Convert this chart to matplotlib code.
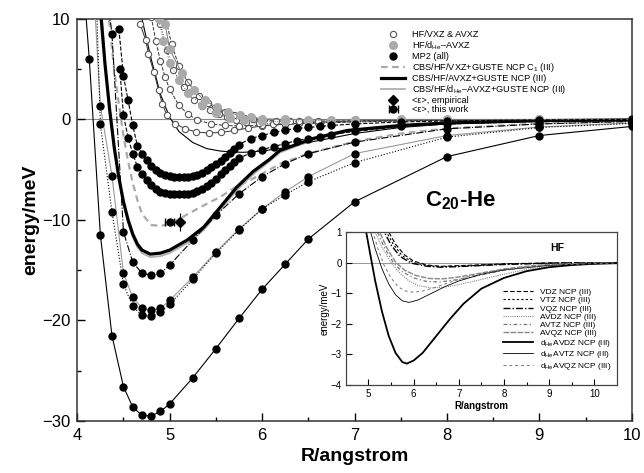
import matplotlib.pyplot as plt
from matplotlib.lines import Line2D

plt.rcParams['font.family'] = ['Liberation Sans', 'DejaVu Sans']
plt.rcParams['mathtext.fontset'] = 'custom'
plt.rcParams['mathtext.rm'] = 'Liberation Sans'
plt.rcParams['mathtext.bf'] = 'Liberation Sans:bold'
plt.rcParams['mathtext.it'] = 'Liberation Sans:italic'

# ---------------- main panel data (R in angstrom, energy in meV) ----------------
# MP2 (all), black dots
mp2_1_r = [4.08, 4.13, 4.25, 4.375, 4.5, 4.6, 4.7, 4.8, 4.9, 5.0, 5.25, 5.5, 5.75, 6.0, 6.25, 6.5, 7.0, 8.0, 9.0, 10.0]
mp2_1_e = [12.0, 6.0, -11.5, -21.5, -26.6, -28.6, -29.45, -29.5, -29.05, -28.3, -25.7, -22.8, -19.8, -16.9, -14.4, -11.9, -8.2, -3.7, -1.6, -0.7]

mp2_2_r = [4.19, 4.25, 4.375, 4.5, 4.6, 4.7, 4.8, 4.9, 5.0, 5.25, 5.5, 5.75, 6.0, 6.25, 6.5, 7.0, 8.0, 9.0, 10.0]
mp2_2_e = [11.0, 1.3, -5.6, -15.3, -17.7, -18.8, -19.0, -18.8, -18.0, -15.7, -13.2, -10.9, -8.9, -7.2, -5.7, -3.4, -1.6, -0.75, -0.35]

mp2_3_r = [4.21, 4.25, 4.375, 4.5, 4.6, 4.7, 4.8, 4.9, 5.0, 5.25, 5.5, 5.75, 6.0, 6.25, 6.5, 7.0, 8.0, 9.0, 10.0]
mp2_3_e = [11.0, -0.5, -9.2, -16.4, -18.6, -19.5, -19.6, -19.2, -18.4, -15.9, -13.3, -11.0, -8.9, -7.5, -6.2, -4.3, -1.76, -0.8, -0.4]

mp2_4_r = [4.33, 4.375, 4.5, 4.6, 4.7, 4.8, 4.9, 5.0, 5.25, 5.5, 5.75, 6.0, 6.25, 6.5, 7.0, 8.0, 9.0, 10.0]
mp2_4_e = [12.0, 8.5, -11.2, -14.2, -15.3, -15.5, -15.3, -14.5, -12.0, -9.55, -7.4, -5.7, -4.4, -3.4, -2.26, -0.93, -0.45, -0.2]

# MP2, densely sampled bands
band_1_r = [4.45, 4.5, 4.55, 4.6, 4.65, 4.7, 4.75, 4.8, 4.85, 4.9, 4.95, 5.0, 5.05, 5.1, 5.15, 5.2,
            5.25, 5.3, 5.35, 5.4, 5.45, 5.5, 5.55, 5.6, 5.65, 5.7, 5.75,
            5.875, 6.0, 6.125, 6.25, 6.375, 6.5, 6.625, 6.75, 7.0, 7.5, 8.0, 9.0, 10.0]
band_1_e = [9.0, 4.3, 1.9, -0.6, -2.6, -3.4, -4.0, -4.6, -5.0, -5.3, -5.5, -5.65, -5.72, -5.75, -5.75, -5.72,
            -5.65, -5.5, -5.3, -5.05, -4.75, -4.45, -4.1, -3.7, -3.3, -2.9, -2.5,
            -1.9, -1.6, -1.3, -1.05, -0.9, -0.8, -0.7, -0.6, -0.45, -0.25, -0.15, -0.05, 0.0]

band_2_r = [4.46, 4.5, 4.55, 4.6, 4.65, 4.7, 4.75, 4.8, 4.85, 4.9, 4.95, 5.0, 5.05, 5.1, 5.15, 5.2,
            5.25, 5.3, 5.35, 5.4, 5.45, 5.5, 5.55, 5.6, 5.65, 5.7, 5.75,
            5.875, 6.0, 6.125, 6.25, 6.375, 6.5, 6.625, 6.75, 7.0, 7.5, 8.0, 9.0, 10.0]
band_2_e = [5.0, 0.4, -1.8, -3.4, -4.7, -5.4, -6.0, -6.5, -6.95, -7.2, -7.35, -7.4, -7.45, -7.45, -7.45, -7.4,
            -7.3, -7.15, -6.9, -6.6, -6.3, -5.9, -5.45, -5.0, -4.6, -4.2, -3.85,
            -3.35, -3.0, -2.7, -2.4, -2.1, -1.9, -1.7, -1.5, -1.2, -0.7, -0.45, -0.2, -0.1]

# HF/VXZ & AVXZ, open circles
hf_o1_r = [4.68, 4.74, 4.77, 4.83, 4.88, 4.92, 4.97, 5.06, 5.17, 5.29, 5.42, 5.55, 5.7, 5.85, 6.0, 6.25, 6.5, 7.0, 7.5, 8.0, 9.0, 10.0]
hf_o1_e = [9.5, 7.9, 6.5, 4.7, 2.9, 1.56, 0.4, -0.43, -0.93, -1.26, -1.35, -1.3, -1.1, -0.85, -0.65, -0.45, -0.3, -0.15, -0.08, -0.04, -0.02, 0.0]

hf_o2_r = [4.8, 4.85, 4.9, 4.95, 5.0, 5.1, 5.2, 5.3, 5.45, 5.6, 5.75, 6.0, 6.25, 6.5, 7.0, 7.5, 8.0, 9.0, 10.0]
hf_o2_e = [10.2, 7.8, 5.8, 4.2, 3.0, 1.4, 0.5, -0.05, -0.45, -0.6, -0.65, -0.6, -0.5, -0.4, -0.25, -0.15, -0.08, -0.03, -0.01]

hf_o3_r = [4.88, 4.9, 4.97, 5.04, 5.15, 5.26, 5.35, 5.44, 5.53, 5.62, 5.72, 5.83, 5.97, 6.12, 6.25, 6.4, 6.6, 6.75, 7.0, 7.5, 8.0, 9.0, 10.0]
hf_o3_e = [10.5, 9.5, 6.9, 4.9, 3.2, 1.9, 1.35, 0.9, 0.55, 0.23, -0.05, -0.27, -0.38, -0.43, -0.43, -0.4, -0.35, -0.3, -0.25, -0.15, -0.08, -0.03, -0.01]

hf_o4_r = [4.95, 5.02, 5.1, 5.2, 5.32, 5.41, 5.5, 5.6, 5.7, 5.8, 5.9, 6.0, 6.15, 6.3, 6.4, 6.6, 6.75, 7.0, 7.5, 8.0, 9.0, 10.0]
hf_o4_e = [10.3, 7.5, 5.3, 3.7, 2.3, 1.6, 1.1, 0.7, 0.4, 0.18, 0.0, -0.08, -0.15, -0.18, -0.18, -0.16, -0.15, -0.12, -0.07, -0.04, -0.01, 0.0]

# HF/dHe-AVXZ, grey dots
hf_g1_r = [4.95, 5.0, 5.13, 5.26, 5.38, 5.51, 5.63, 5.76, 5.88, 6.0, 6.25, 6.5, 6.75, 7.0, 7.5, 8.0, 9.0, 10.0]
hf_g1_e = [9.5, 7.0, 4.6, 2.9, 1.9, 1.2, 0.7, 0.4, 0.2, 0.07, 0.0, -0.03, -0.03, -0.02, 0.0, 0.0, 0.0, 0.0]

hf_g2_r = [4.88, 4.93, 5.0, 5.1, 5.2, 5.35, 5.5, 5.65, 5.8, 6.0, 6.25, 6.5, 7.0, 8.0, 9.0, 10.0]
hf_g2_e = [10.0, 7.8, 5.6, 3.9, 2.6, 1.4, 0.6, 0.15, -0.1, -0.2, -0.2, -0.15, -0.08, -0.02, 0.0, 0.0]

# HF/dHe-AVDZ line
hf_d_r = [4.7, 4.8, 4.9, 5.0, 5.1, 5.25, 5.4, 5.55, 5.7, 5.8, 6.0, 6.25, 6.5, 7.0, 7.5, 8.0, 9.0, 10.0]
hf_d_e = [10.0, 6.0, 2.5, 0.2, -1.2, -2.3, -2.9, -3.15, -3.25, -3.27, -3.15, -2.8, -2.3, -1.4, -0.8, -0.45, -0.15, -0.05]

# CBS curves
cbs_c1_r = [4.33, 4.4, 4.45, 4.5, 4.55, 4.6, 4.65, 4.7, 4.8, 4.9, 5.0, 5.2, 5.4, 5.55, 5.7, 5.9, 6.2, 6.5, 7.0, 7.5, 8.0, 9.0, 10.0]
cbs_c1_e = [11.0, 5.0, 1.5, -1.6, -4.2, -6.3, -8.0, -9.4, -10.5, -10.6, -10.4, -9.4, -8.4, -7.7, -6.8, -5.9, -4.4, -3.4, -2.2, -1.4, -0.9, -0.4, -0.18]

cbs_av_r = [4.25, 4.3, 4.35, 4.4, 4.45, 4.5, 4.55, 4.6, 4.65, 4.7, 4.79, 4.9, 5.0, 5.19, 5.37, 5.55, 5.73, 5.9, 6.09, 6.19, 6.55, 6.92, 7.5, 8.0, 9.0, 10.0]
cbs_av_e = [11.0, 5.5, 1.0, -2.8, -5.8, -8.2, -10.0, -11.4, -12.4, -13.0, -13.4, -13.3, -13.0, -12.0, -10.7, -8.7, -6.7, -5.2, -3.9, -3.1, -1.9, -1.1, -0.6, -0.35, -0.12, -0.05]

cbs_dhe_r = [4.26, 4.3, 4.35, 4.4, 4.45, 4.5, 4.55, 4.6, 4.65, 4.7, 4.79, 4.9, 5.0, 5.19, 5.37, 5.55, 5.73, 5.9, 6.09, 6.19, 6.55, 6.92, 7.5, 8.0, 9.0, 10.0]
cbs_dhe_e = [11.0, 5.8, 1.2, -2.8, -5.9, -8.4, -10.3, -11.7, -12.7, -13.3, -13.7, -13.6, -13.3, -12.3, -11.0, -9.0, -7.0, -5.5, -4.1, -3.3, -2.05, -1.2, -0.65, -0.38, -0.13, -0.05]

# averaged well depths
emp_r, emp_e, emp_err = [5.11], [-10.2], [0.9]
work_r, work_e, work_xerr = [5.0], [-10.2], [0.05]

# ---------------- inset data (HF, NCP (III)) ----------------
vdz_r = [5.3, 5.45, 5.6, 5.8, 6.0, 6.3, 6.6, 7.0, 8.0, 9.0, 10.5]
vdz_e = [1.6, 1.0, 0.6, 0.25, 0.05, -0.08, -0.12, -0.1, -0.04, -0.01, 0.0]
vtz_r = [5.25, 5.4, 5.55, 5.75, 6.0, 6.3, 6.6, 7.0, 8.0, 9.0, 10.5]
vtz_e = [1.6, 1.0, 0.6, 0.22, 0.0, -0.1, -0.13, -0.12, -0.05, -0.02, 0.0]
vqz_r = [5.2, 5.35, 5.5, 5.7, 5.95, 6.3, 6.6, 7.0, 8.0, 9.0, 10.5]
vqz_e = [1.6, 1.0, 0.58, 0.2, -0.02, -0.12, -0.15, -0.13, -0.06, -0.02, 0.0]
avdz_r = [5.0, 5.15, 5.3, 5.5, 5.7, 5.9, 6.1, 6.4, 6.7, 7.0, 7.5, 8.0, 8.5, 9.0, 9.5, 10.5]
avdz_e = [1.6, 1.0, 0.5, 0.0, -0.35, -0.6, -0.75, -0.83, -0.8, -0.72, -0.55, -0.38, -0.22, -0.12, -0.06, -0.01]
avtz_r = [5.05, 5.2, 5.35, 5.55, 5.75, 6.0, 6.3, 6.6, 7.0, 7.5, 8.0, 8.5, 9.0, 10.5]
avtz_e = [1.6, 1.0, 0.5, 0.0, -0.3, -0.5, -0.62, -0.63, -0.55, -0.4, -0.25, -0.14, -0.07, 0.0]
avqz_r = [5.1, 5.25, 5.4, 5.6, 5.8, 6.05, 6.35, 6.65, 7.0, 7.5, 8.0, 8.5, 9.0, 10.5]
avqz_e = [1.6, 1.0, 0.5, 0.02, -0.25, -0.42, -0.52, -0.53, -0.47, -0.34, -0.21, -0.12, -0.06, 0.0]
davdz_r = [4.85, 4.95, 5.05, 5.15, 5.3, 5.45, 5.6, 5.75, 5.85, 6.0, 6.2, 6.5, 6.8, 7.1, 7.5, 8.0, 8.5, 9.0, 9.5, 10.0, 10.5]
davdz_e = [1.6, 1.0, 0.2, -0.6, -1.6, -2.4, -2.95, -3.25, -3.3, -3.2, -2.95, -2.4, -1.85, -1.35, -0.85, -0.5, -0.28, -0.15, -0.08, -0.04, -0.02]
davtz_r = [4.95, 5.05, 5.15, 5.3, 5.45, 5.6, 5.75, 5.9, 6.1, 6.4, 6.7, 7.0, 7.5, 8.0, 9.0, 10.5]
davtz_e = [1.6, 1.0, 0.45, -0.2, -0.7, -1.05, -1.25, -1.3, -1.22, -1.0, -0.78, -0.6, -0.38, -0.24, -0.09, -0.01]
davqz_r = [5.0, 5.1, 5.2, 5.35, 5.5, 5.65, 5.8, 6.0, 6.2, 6.5, 6.8, 7.2, 7.6, 8.0, 9.0, 10.5]
davqz_e = [1.6, 1.0, 0.5, -0.1, -0.5, -0.78, -0.92, -0.97, -0.93, -0.8, -0.64, -0.46, -0.32, -0.22, -0.08, -0.01]

inset_labels = ['VDZ NCP (III)', 'VTZ NCP (III)', 'VQZ NCP (III)', 'AVDZ NCP (III)', 'AVTZ NCP (III)',
                'AVQZ NCP (III)', r'd$_{\rm He}$AVDZ NCP (III)', r'd$_{\rm He}$AVTZ NCP (III)',
                r'd$_{\rm He}$AVQZ NCP (III)']

fig = plt.figure(figsize=(6.44, 4.73), dpi=100)
ax = fig.add_axes([0.12, 0.11, 0.861, 0.85])

ax.axhline(0, color='#888888', lw=0.8, zorder=1)

black = dict(marker='o', color='black', ms=5, mec='black', lw=0.8, zorder=4)
ax.plot(mp2_1_r, mp2_1_e, ls='-', **black)
ax.plot(mp2_2_r, mp2_2_e, ls='-', **{**black, 'color': '#999999', 'mfc': 'black'})
ax.plot(mp2_3_r, mp2_3_e, ls=':', **black)
ax.plot(mp2_4_r, mp2_4_e, ls='-.', **black)
ax.plot(band_1_r, band_1_e, ls='--', **black)
ax.plot(band_2_r, band_2_e, ls='--', **black)

opn = dict(marker='o', ms=4.5, mfc='white', mec='#555555', mew=0.8, color='#333333', lw=0.7, zorder=3)
ax.plot(hf_o1_r, hf_o1_e, ls='-', **opn)
ax.plot(hf_o2_r, hf_o2_e, ls='--', **opn)
ax.plot(hf_o3_r, hf_o3_e, ls=':', **opn)
ax.plot(hf_o4_r, hf_o4_e, ls='--', **opn)

gry = dict(marker='o', ms=5.5, mfc='#aaaaaa', mec='#aaaaaa', color='#777777', lw=0.7, zorder=3)
ax.plot(hf_g1_r, hf_g1_e, ls='-', **gry)
ax.plot(hf_g2_r, hf_g2_e, ls=':', **gry)

ax.plot(hf_d_r, hf_d_e, color='black', lw=0.8, zorder=2)

l_c1, = ax.plot(cbs_c1_r, cbs_c1_e, color='#aaaaaa', ls=(0, (3, 2)), lw=1.6, zorder=2,
                label='CBS/HF/VXZ+GUSTE NCP C$_1$ (III)')
l_dhe, = ax.plot(cbs_dhe_r, cbs_dhe_e, color='#b0b0b0', lw=1.3, zorder=2,
                 label='CBS/HF/d$_{\\rm He}$\u2013AVXZ+GUSTE NCP (III)')
l_av, = ax.plot(cbs_av_r, cbs_av_e, color='black', lw=2.3, zorder=2,
                label='CBS/HF/AVXZ+GUSTE NCP (III)')

e_emp = ax.errorbar(emp_r, emp_e, yerr=emp_err, fmt='D', color='black', ms=5, capsize=0, lw=0.8,
                    zorder=5, label='<\u03b5>, empirical')
e_work = ax.errorbar(work_r, work_e, xerr=work_xerr, fmt='o', color='black', ms=5, capsize=3, lw=0.8,
                     zorder=5, label='<\u03b5>, this work')

h_open = Line2D([], [], ls='none', marker='o', ms=4.5, mfc='white', mec='#555555', mew=0.8)
h_grey = Line2D([], [], ls='none', marker='o', ms=5.5, mfc='#aaaaaa', mec='#aaaaaa')
h_mp2 = Line2D([], [], ls='none', marker='o', ms=5, color='black')
handles = [h_open, h_grey, h_mp2, l_c1, l_av, l_dhe, e_emp, e_work]
labels = ['HF/VXZ & AVXZ', 'HF/d$_{\\rm He}$\u2013AVXZ', 'MP2 (all)', l_c1.get_label(), l_av.get_label(),
          l_dhe.get_label(), '<\u03b5>, empirical', '<\u03b5>, this work']
ax.legend(handles, labels, loc='upper left', bbox_to_anchor=(0.535, 0.99), frameon=False, fontsize=6.6,
          handlelength=2.6, handletextpad=0.7, labelspacing=0.0, borderpad=0.3)

ax.text(7.76, -8.1, r'$\mathbf{C_{20}}$-He', fontsize=16, fontweight='bold', va='center', ha='left')

ax.set_xlim(4, 10)
ax.set_ylim(-30, 10)
ax.set_xticks(range(4, 11))
ax.set_xticks([4.5, 5.5, 6.5, 7.5, 8.5, 9.5], minor=True)
ax.set_yticks([-30, -20, -10, 0, 10])
ax.set_yticks([-25, -15, -5, 5], minor=True)
ax.tick_params(direction='in', labelsize=12, length=6, width=1, top=False, right=False, pad=5)
ax.tick_params(which='minor', direction='in', length=3, width=1)
for s in ax.spines.values():
    s.set_linewidth(1.1)
    s.set_color('#333333')
ax.set_xlabel('R/angstrom', fontsize=14, fontweight='bold', labelpad=4)
ax.set_ylabel('energy/meV', fontsize=14, fontweight='bold', labelpad=2)

# ---------------- inset ----------------
ins = fig.add_axes([0.537, 0.186, 0.421, 0.3235])
ins.axhline(0, color='#888888', lw=0.6, zorder=1)
ins.plot(vdz_r, vdz_e, color='black', ls=(0, (4, 2)), lw=0.8, label=inset_labels[0])
ins.plot(vtz_r, vtz_e, color='black', ls=(0, (2, 2)), lw=0.8, label=inset_labels[1])
ins.plot(vqz_r, vqz_e, color='black', ls=(0, (5, 1.5, 1, 1.5)), lw=1.0, label=inset_labels[2])
ins.plot(avdz_r, avdz_e, color='#888888', ls=(0, (1, 1)), lw=0.8, label=inset_labels[3])
ins.plot(avtz_r, avtz_e, color='#777777', ls=(0, (3, 2, 1, 2)), lw=0.9, label=inset_labels[4])
ins.plot(avqz_r, avqz_e, color='#888888', ls=(0, (4, 1)), lw=1.0, label=inset_labels[5])
ins.plot(davdz_r, davdz_e, color='black', lw=1.3, label=inset_labels[6])
ins.plot(davtz_r, davtz_e, color='black', lw=0.6, label=inset_labels[7])
ins.plot(davqz_r, davqz_e, color='#777777', ls=(0, (3, 3)), lw=0.7, label=inset_labels[8])
ins.set_xlim(4.5, 10.5)
ins.set_ylim(-4, 1)
ins.set_xticks(range(5, 11))
ins.set_xticks([5.5, 6.5, 7.5, 8.5, 9.5], minor=True)
ins.set_yticks([-4, -3, -2, -1, 0, 1])
ins.tick_params(direction='in', labelsize=7, length=4, width=0.8, pad=3)
ins.tick_params(which='minor', direction='in', length=2, width=0.8)
for s in ins.spines.values():
    s.set_linewidth(0.9)
    s.set_color('#444444')
ins.set_xlabel('R/angstrom', fontsize=7, fontweight='bold', labelpad=1)
ins.set_ylabel('energy/meV', fontsize=7, labelpad=1)
ins.text(0.78, 0.895, 'HF', transform=ins.transAxes, fontsize=7.5, fontweight='bold', ha='center', va='center')
ins.legend(loc='lower right', bbox_to_anchor=(1.0, 0.05), frameon=False, fontsize=6, handlelength=3.6,
           handletextpad=0.8, labelspacing=0.05, borderpad=0.2)

fig.savefig('out.png', dpi=100)
